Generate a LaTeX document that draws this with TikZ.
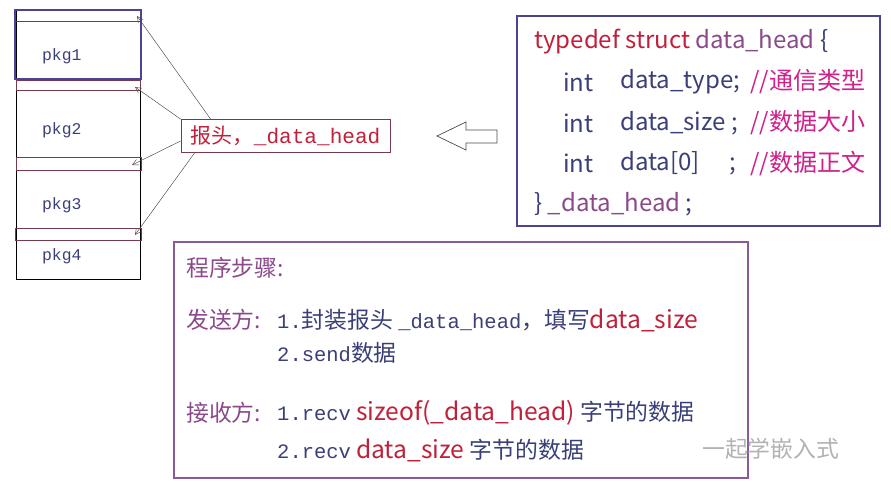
\documentclass[tikz,border=0pt]{standalone}
\usepackage{fontspec}
\setmainfont{Liberation Serif}
\setmonofont{Liberation Mono}
\newfontfamily\cjk{Noto Sans CJK SC}
\usetikzlibrary{arrows.meta}
\definecolor{navy}{HTML}{3A3F78}
\definecolor{dred}{HTML}{C0203A}
\definecolor{mag}{HTML}{D0208A}
\definecolor{purp}{HTML}{8A4A8A}
\definecolor{bpurp}{HTML}{8A5A9A}
\definecolor{sbox}{HTML}{4A4496}
\definecolor{brn}{HTML}{7A3A4A}
\newcommand\tsm[1]{{\ttfamily\fontsize{17.5}{20}\selectfont #1}}
\newcommand\rbig[1]{{\color{dred}\fontsize{21}{24}\selectfont #1}}
\begin{document}
\begin{tikzpicture}[x=0.03cm,y=-0.03cm,
  strip/.style={draw=brn,line width=0.6pt},
  pk/.style={text=navy,font=\ttfamily\fontsize{14}{16}\selectfont,anchor=west},
  code/.style={anchor=west,font=\cjk\fontsize{20.5}{23}\selectfont,inner sep=0},
  bt/.style={anchor=west,font=\cjk\fontsize{19.5}{22}\selectfont,inner sep=0},
  con/.style={draw=black!70,line width=0.4pt,-{Straight Barb[length=5pt,width=5pt]}}]
\useasboundingbox (0,0) rectangle (891,487);
% column
\draw[line width=0.7pt] (16,10) rectangle (140,279);
\draw[strip] (16,21) -- (140,21);
\draw[strip] (16,80) rectangle (140,90);
\draw[strip] (16,157) rectangle (141,170);
\draw[strip] (15,228) rectangle (141,240);
\draw[sbox,line width=2pt] (15,10) rectangle (141,79);
\node[pk] (p1) at (38,56) {pkg1};
\node[pk] (p2) at (38,130) {pkg2};
\node[pk] (p3) at (38,205) {pkg3};
\node[pk] (p4) at (38,256) {pkg4};
\coordinate (h1) at (137,16);
\coordinate (h2) at (135,87);
\coordinate (h3) at (132,165);
\coordinate (h4) at (135,235);
\node[draw=brn,line width=0.6pt,text=dred,inner sep=1pt,font=\ttfamily\fontsize{18}{20}\selectfont,minimum height=33*0.03cm,minimum width=209*0.03cm] (lab) at (285.5,136) {{\cjk 报头，}\_data\_head};
\draw[con] ([xshift=30*0.03cm]lab.north west) -- (h1);
\draw[con] (lab.north west) -- (h2);
\draw[con] ([yshift=-5*0.03cm]lab.west) -- (h3);
\draw[con] ([xshift=14*0.03cm]lab.south west) -- (h4);
% hollow arrow
\draw[black!70,line width=0.6pt] (437,136) -- (466,122) -- (466,130) -- (497,130) -- (497,143) -- (466,143) -- (466,150) -- cycle;
% struct
\draw[sbox,line width=2pt] (517,16) rectangle (880,226);
\node[code] (s1) at (534,42) {\textcolor{dred}{typedef struct} \textcolor{purp}{data\_head} \textcolor{navy}{\{}};
\node[code,text=navy] (s2a) at (563,82) {int};
\node[code,text=navy] (s2b) at (620,82) {data\_type;};
\node[code,text=mag] (s2c) at (750,82) {//通信类型};
\node[code,text=navy] (s3a) at (563,123) {int};
\node[code,text=navy] (s3b) at (620,123) {data\_size ;};
\node[code,text=mag] (s3c) at (750,123) {//数据大小};
\node[code,text=navy] (s4a) at (563,163) {int};
\node[code,text=navy] (s4b) at (620,163) {data[0]\quad\ ;};
\node[code,text=mag] (s4c) at (750,163) {//数据正文};
\node[code] (s5) at (534,204) {\textcolor{navy}{\}} \textcolor{purp}{\_data\_head} \textcolor{navy}{;}};
% steps
\draw[bpurp,line width=2pt] (174,242) rectangle (748,478);
\node[bt,text=purp] (t0) at (186,268) {程序步骤:};
\node[bt,text=purp] (t1) at (186,320) {发送方:};
\node[bt,text=navy] (t1b) at (277,320) {\tsm{1.}封装报头 \tsm{\_data\_head}，填写\rbig{data\_size}};
\node[bt,text=navy] (t2) at (277,353) {\tsm{2.send}数据};
\node[bt,text=purp] (t3) at (186,413) {接收方:};
\node[bt,text=navy] (t3b) at (277,413) {\tsm{1.recv} \rbig{sizeof(\_data\_head)} 字节的数据};
\node[bt,text=navy] (t4) at (277,450) {\tsm{2.recv}\ \rbig{data\_size} 字节的数据};
\node[bt,text=black!30] (wm) at (702,449) {一起学嵌入式};
\end{tikzpicture}
\end{document}
